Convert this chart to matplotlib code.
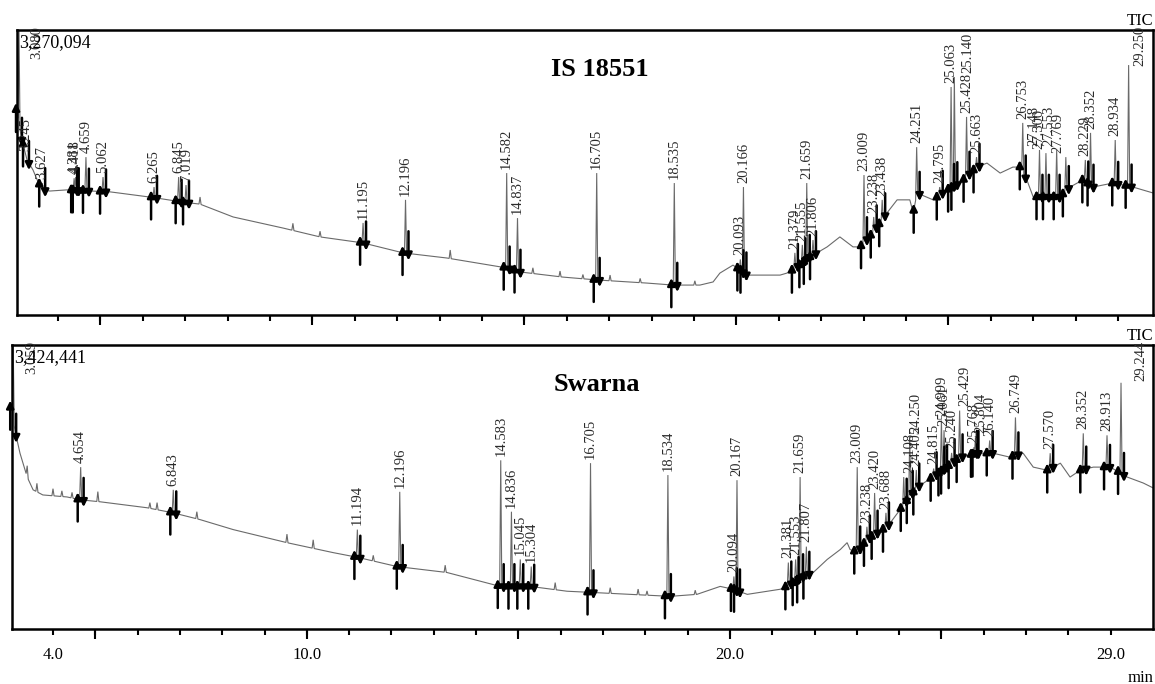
import numpy as np
import matplotlib.pyplot as plt
from matplotlib.ticker import FixedLocator, FuncFormatter
import matplotlib.transforms as mtransforms

plt.rcParams['font.family'] = ['Liberation Serif', 'DejaVu Serif']

# ---------------- IS 18551 ----------------
# baseline (retention time in min, % of full scale)
top_base_t = [3.03, 3.06, 3.15, 3.27, 3.41, 3.53, 3.62, 3.81, 4.21, 5.23, 6.17, 6.95, 7.35,
              8.13, 9.31, 10.18, 11.19, 12.14, 13.17, 14.59, 14.90, 15.91, 16.71, 17.89,
              18.50, 19.14, 19.45, 19.61, 19.92, 20.25, 21.03, 21.19, 21.33, 21.74, 22.14,
              22.44, 22.75, 22.92, 23.22, 23.55, 23.79, 24.09, 24.17, 24.26, 24.64, 24.97,
              25.27, 25.67, 25.91, 26.22, 26.52, 26.69, 26.85, 27.00, 27.63, 27.87, 28.17,
              28.41, 28.88, 29.35, 29.83]
top_base_y = [72.0, 68.4, 61.4, 54.4, 50.9, 46.7, 43.9, 43.5, 43.9, 43.2, 41.4, 39.6, 38.9,
              34.4, 30.5, 27.4, 25.3, 21.8, 20.0, 16.5, 15.1, 13.3, 12.3, 11.2,
              10.5, 10.5, 11.6, 14.7, 17.5, 14.0, 14.0, 14.7, 15.8, 20.4, 23.9,
              27.4, 23.9, 23.9, 28.8, 35.8, 40.4, 40.4, 35.8, 42.8, 40.4, 43.9,
              46.3, 51.9, 53.3, 49.8, 51.9, 51.9, 47.4, 41.4, 41.4, 44.9, 47.4,
              44.9, 46.3, 44.9, 42.8]
top_rt = [3.080, 3.245, 3.627, 4.381, 4.418, 4.659, 5.062, 6.265, 6.845, 7.019, 11.195,
          12.196, 14.582, 14.837, 16.705, 18.535, 20.093, 20.166, 21.379, 21.555, 21.659,
          21.806, 23.009, 23.238, 23.438, 24.251, 24.795, 25.063, 25.140, 25.428, 25.663,
          26.753, 27.148, 27.300, 27.553, 27.769, 28.229, 28.352, 28.934, 29.250]
top_height = [100.0, 56.0, 46.3, 48.0, 48.4, 55.4, 48.4, 44.9, 48.4, 45.6, 32.3,
              40.4, 49.8, 34.0, 49.8, 46.3, 19.5, 44.9, 21.8, 24.6, 46.3,
              26.3, 49.1, 34.4, 40.4, 58.9, 44.9, 80.0, 83.5, 69.5, 55.4,
              67.4, 57.9, 56.8, 57.9, 55.4, 54.4, 63.9, 61.4, 87.7]
top_small_rt = [7.35, 9.54, 10.18, 13.25, 15.20, 15.84, 16.38, 17.02, 17.73, 19.02]
top_small_h = [2.5, 2.5, 2.0, 3.0, 2.0, 2.0, 1.5, 2.0, 1.5, 1.5]

# ---------------- Swarna ----------------
bot_base_t = [3.03, 3.05, 3.10, 3.22, 3.39, 3.53, 3.76, 4.33, 4.64, 5.11, 6.22, 6.84, 7.48,
              8.26, 9.53, 10.62, 11.21, 12.13, 13.31, 14.57, 15.28, 16.15, 16.70, 17.64,
              18.59, 19.22, 19.77, 20.08, 20.41, 21.19, 21.35, 21.73, 21.97, 22.30, 22.61,
              22.77, 22.84, 23.01, 23.24, 23.72, 24.02, 24.43, 24.80, 25.13, 25.44, 25.84,
              26.22, 26.62, 26.93, 27.17, 27.50, 27.81, 28.04, 28.28, 28.59, 28.99, 29.39,
              29.77, 30.00]
bot_base_y = [78.0, 75.2, 69.9, 61.9, 53.5, 49.0, 47.2, 46.5, 45.5, 44.8, 42.7, 40.9, 38.5,
              35.0, 30.4, 26.9, 25.2, 22.0, 19.9, 15.0, 15.0, 13.3, 12.9, 12.2,
              11.5, 12.2, 15.0, 14.0, 12.2, 14.0, 15.0, 18.5, 19.9, 24.5, 28.0,
              30.4, 28.0, 26.9, 31.5, 36.0, 42.0, 50.0, 53.5, 57.0, 60.5, 61.9,
              61.9, 60.5, 61.9, 57.0, 55.9, 58.4, 53.5, 55.9, 57.0, 57.0, 53.5,
              51.4, 49.7]
bot_rt = [3.059, 4.654, 6.843, 11.194, 12.196, 14.583, 14.836, 15.045, 15.304, 16.705,
          18.534, 20.094, 20.167, 21.381, 21.553, 21.659, 21.807, 23.009, 23.238, 23.420,
          23.688, 24.108, 24.250, 24.405, 24.815, 24.999, 25.061, 25.240, 25.429, 25.768,
          25.804, 26.140, 26.749, 27.570, 28.352, 28.913, 29.244]
bot_height = [100.0, 57.0, 49.0, 35.0, 48.3, 59.4, 41.3, 24.5, 22.0, 58.4,
              54.2, 18.5, 52.4, 23.4, 24.5, 53.5, 29.0, 57.0, 36.0, 47.9,
              40.9, 53.5, 67.5, 56.0, 56.5, 73.4, 70.0, 62.0, 76.9, 64.0,
              67.5, 66.4, 74.5, 61.9, 68.9, 68.2, 86.7]
bot_small_rt = [3.39, 3.62, 4.00, 4.21, 4.45, 5.06, 6.29, 6.46, 7.40, 9.53, 10.15, 11.57,
                13.27, 15.87, 17.17, 17.83, 18.04, 19.18]
bot_small_h = [4.0, 3.0, 2.5, 2.0, 2.0, 3.5, 2.0, 2.5, 2.5, 3.0, 3.0, 2.0,
               2.5, 2.5, 2.0, 2.0, 1.5, 1.5]

tick_labels = {4: '4.0', 10: '10.0', 20: '20.0', 29: '29.0'}

# labels moved off their peak (dx, dy in pixels)
label_shift = {
    '3.080': (18, -33), '3.059': (19, -33),
    '29.250': (11, -5), '29.244': (20, -2),
    '25.140': (14, 0), '27.148': (-6, 0), '27.300': (-7, 0),
    '27.553': (-8, 0), '27.769': (-8, 0),
    '24.108': (6, 0), '24.250': (6, 0), '25.429': (5, 0), '25.804': (5, 0),
}

PX = 0.72  # points per pixel at 100 dpi
HW = 0.025  # half width of a spike, min


def trace(base_t, base_y, rt, h, small_rt, small_h):
    base_t = np.asarray(base_t)
    base_y = np.asarray(base_y)
    pts = list(zip(base_t, base_y))
    spikes = [(r, y) for r, y in zip(rt, h)]
    spikes += [(r, np.interp(r, base_t, base_y) + d) for r, d in zip(small_rt, small_h)]
    for r, y in spikes:
        pts = [p for p in pts if not (r - HW < p[0] < r + HW)]
        pts.append((r - HW, np.interp(r - HW, base_t, base_y)))
        pts.append((r, y))
        pts.append((r + HW, np.interp(r + HW, base_t, base_y)))
    pts.sort()
    return [p[0] for p in pts], [p[1] for p in pts]


def panel(ax, name, full, base_t, base_y, rt, h, small_rt, small_h, xlim, show_labels):
    x, y = trace(base_t, base_y, rt, h, small_rt, small_h)
    ax.plot(x, y, color='#6a6a6a', lw=0.8, solid_joinstyle='miter')
    ax.set_xlim(*xlim)
    ax.set_ylim(0, 100)

    fig = ax.figure
    up = mtransforms.offset_copy(ax.transData, fig=fig, y=5, units='points')
    dn = mtransforms.offset_copy(ax.transData, fig=fig, y=-5, units='points')
    arrow = dict(arrowstyle='-|>', color='k', lw=1.8, mutation_scale=11,
                 shrinkA=0, shrinkB=0)
    for r, top in zip(rt, h):
        lbl = '%.3f' % r
        t0, t1 = r - 0.07, r + 0.07
        b0 = np.interp(t0, base_t, base_y)
        b1 = np.interp(t1, base_t, base_y)
        ax.annotate('', xy=(t0, b0), xycoords=up, xytext=(0, -21), textcoords='offset points',
                    arrowprops=arrow, annotation_clip=False)
        ax.annotate('', xy=(t1, b1), xycoords=dn, xytext=(0, 21), textcoords='offset points',
                    arrowprops=arrow, annotation_clip=False)
        dx, dy = label_shift.get(lbl, (0, 0))
        ax.annotate(lbl, xy=(r, top), xytext=(dx * PX, 3 + dy * PX), textcoords='offset points',
                    rotation=90, ha='center', va='bottom', fontsize=10.5, color='#2a2a2a',
                    annotation_clip=False)

    ax.text(0.002, 0.985, full, transform=ax.transAxes, ha='left', va='top', fontsize=13)
    ax.text(0.513, 0.9, name, transform=ax.transAxes, ha='center', va='top',
            fontsize=19, fontweight='bold')
    ax.text(1.0, 1.005, 'TIC', transform=ax.transAxes, ha='right', va='bottom', fontsize=12)

    for s in ax.spines.values():
        s.set_linewidth(1.8)
    ax.set_yticks([])
    ax.xaxis.remove_overlapping_locs = False
    ax.xaxis.set_major_locator(FixedLocator([5, 10, 15, 20, 25]))
    ax.xaxis.set_minor_locator(FixedLocator(list(range(4, 30))))
    ax.xaxis.set_major_formatter(FuncFormatter(lambda v, p: ''))
    if show_labels:
        ax.xaxis.set_minor_formatter(FuncFormatter(lambda v, p: tick_labels.get(int(round(v)), '')))
    else:
        ax.xaxis.set_minor_formatter(FuncFormatter(lambda v, p: ''))
    ax.tick_params(axis='x', which='major', direction='out', length=7, width=1.5)
    ax.tick_params(axis='x', which='minor', direction='out', length=4, width=1.5,
                   labelsize=12, pad=9)


fig = plt.figure(figsize=(11.55, 6.84), dpi=100)
ax1 = fig.add_axes([17 / 1155, 1 - 315 / 684, 1136 / 1155, 285 / 684])
ax2 = fig.add_axes([12 / 1155, 1 - 629 / 684, 1141 / 1155, 284 / 684])

panel(ax1, 'IS 18551', '3,270,094', top_base_t, top_base_y, top_rt, top_height,
      top_small_rt, top_small_h, (3.033, 29.825), False)
panel(ax2, 'Swarna', '3,424,441', bot_base_t, bot_base_y, bot_rt, bot_height,
      bot_small_rt, bot_small_h, (3.031, 30.0), True)

fig.text(1153 / 1155, 1 - 678 / 684, 'min', ha='right', va='center', fontsize=12)

fig.savefig('out.png', dpi=100)
